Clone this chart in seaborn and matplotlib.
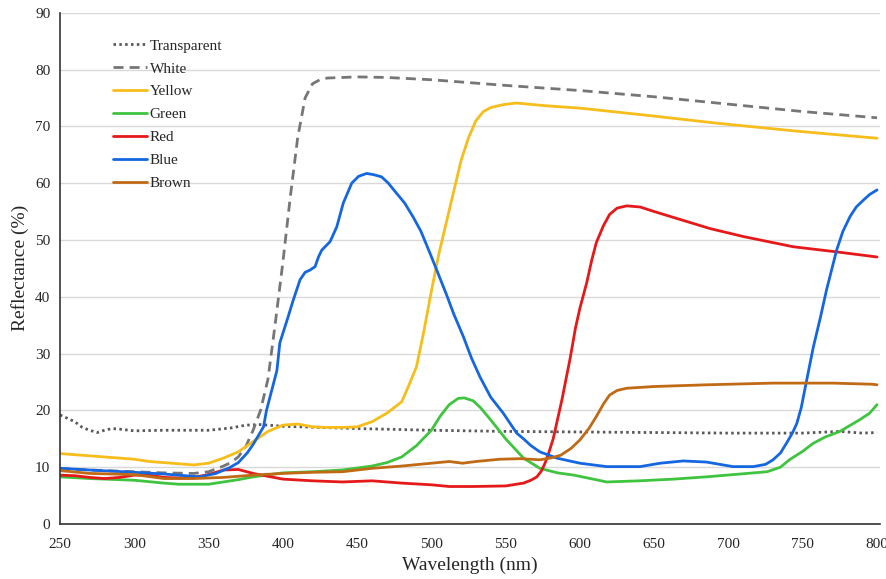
import matplotlib
matplotlib.use("Agg")
import matplotlib.pyplot as plt
import seaborn as sns
import pandas as pd

# Reflectance spectra of coloured samples (wavelength in nm, reflectance in %)
transparent_wl = [250, 255, 260, 265, 270, 275, 280, 285, 290, 300, 320, 350, 365, 375, 385,
                  400, 450, 500, 550, 600, 650, 700, 750, 775, 790, 800]
transparent_r = [19.2, 18.6, 18.0, 17.0, 16.5, 16.1, 16.5, 16.8, 16.7, 16.4, 16.5, 16.5, 16.9, 17.4, 17.5,
                 17.2, 16.8, 16.5, 16.3, 16.2, 16.1, 16.0, 16.0, 16.3, 16.0, 16.1]

white_wl = [250, 270, 300, 320, 340, 350, 360, 365, 370, 375, 380, 385, 390, 395, 400, 405, 410,
            415, 420, 425, 430, 450, 470, 500, 530, 550, 600, 650, 700, 750, 800]
white_r = [9.8, 9.5, 9.2, 9.0, 8.9, 9.2, 10.2, 10.8, 11.8, 13.6, 16.5, 20.0, 25.5, 35.5, 46.0, 57.5, 68.0,
           75.0, 77.5, 78.2, 78.5, 78.7, 78.6, 78.2, 77.6, 77.2, 76.3, 75.2, 73.9, 72.6, 71.5]

yellow_wl = [250, 260, 270, 280, 290, 300, 310, 320, 330, 340, 350, 360, 370, 380, 390, 400, 410,
             420, 430, 440, 450, 460, 470, 480, 485, 490, 495, 500, 505, 510, 515, 520, 525, 530,
             535, 540, 548, 557, 578, 600, 643, 694, 748, 800]
yellow_r = [12.4, 12.2, 12.0, 11.8, 11.6, 11.4, 11.0, 10.8, 10.6, 10.4, 10.7, 11.6, 12.7, 14.5, 16.3, 17.4, 17.6,
            17.1, 17.0, 17.0, 17.1, 18.0, 19.5, 21.5, 24.5, 27.7, 34.0, 41.0, 47.5, 53.0, 58.5, 64.0, 68.0, 71.0,
            72.6, 73.3, 73.8, 74.1, 73.6, 73.2, 72.0, 70.5, 69.1, 67.9]

green_wl = [250, 270, 300, 320, 330, 350, 360, 370, 380, 400, 420, 440, 460, 470, 480, 490, 500, 506,
            512, 518, 522, 528, 533, 540, 550, 562, 573, 585, 596, 607, 618, 640, 663, 685, 708, 726,
            735, 741, 750, 757, 765, 775, 788, 795, 800]
green_r = [8.3, 8.0, 7.7, 7.2, 7.0, 7.0, 7.4, 7.8, 8.3, 9.0, 9.2, 9.5, 10.2, 10.8, 11.8, 13.8, 16.5, 19.0,
           21.0, 22.1, 22.2, 21.7, 20.5, 18.3, 15.0, 11.6, 9.8, 9.0, 8.6, 8.0, 7.4, 7.6, 7.9, 8.3, 8.8, 9.2,
           10.0, 11.3, 12.8, 14.2, 15.3, 16.3, 18.3, 19.5, 21.0]

red_wl = [250, 260, 270, 280, 290, 300, 310, 320, 330, 340, 350, 360, 370, 380, 390, 400, 420, 440,
          460, 480, 500, 512, 528, 550, 562, 567, 571, 574, 576.5, 579, 582, 585, 588, 591, 593.3, 597,
          600, 604.6, 608, 611, 615.8, 620, 625, 631.5, 640.5, 650, 665, 687.6, 710, 743.6, 772.8, 800]
red_r = [8.6, 8.5, 8.2, 8.0, 8.2, 8.6, 8.6, 8.2, 8.1, 8.2, 8.7, 9.5, 9.6, 8.9, 8.4, 7.9, 7.6, 7.4,
         7.6, 7.2, 6.9, 6.6, 6.6, 6.7, 7.2, 7.7, 8.3, 9.3, 10.7, 12.5, 15.0, 18.5, 22.0, 26.0, 29.0, 34.5,
         38.0, 42.5, 46.5, 49.5, 52.5, 54.5, 55.6, 56.0, 55.8, 55.0, 53.8, 52.0, 50.6, 48.8, 47.9, 47.0]

blue_wl = [250, 270, 300, 320, 344, 355, 364, 370, 376, 380, 387, 389, 392, 396, 398, 403, 407, 411.6,
           415, 418.3, 421.7, 424, 426.2, 431.8, 436.3, 440.7, 446.4, 451, 456.4, 461, 466.5, 471,
           476.6, 482, 487.8, 493, 499, 503.6, 510, 515, 521.5, 527, 532.7, 540, 548.4, 557.4, 562,
           567, 573, 584.4, 600, 618, 640.5, 654, 669.6, 685.3, 703, 716.7, 725, 730, 735, 739, 743,
           746, 749, 752.7, 757, 762, 766, 772.8, 777, 781.8, 786, 790.8, 795, 800]
blue_r = [9.8, 9.5, 9.1, 8.8, 8.3, 8.9, 9.9, 10.8, 12.5, 14.0, 17.1, 20.0, 23.0, 27.0, 31.9, 36.0, 39.4, 43.0,
          44.3, 44.7, 45.3, 47.0, 48.2, 49.7, 52.3, 56.5, 60.0, 61.2, 61.7, 61.5, 61.1, 60.0,
          58.2, 56.5, 54.0, 51.5, 47.7, 44.7, 40.5, 37.0, 33.0, 29.2, 25.9, 22.3, 19.5, 16.0, 15.0,
          13.8, 12.7, 11.6, 10.7, 10.1, 10.1, 10.7, 11.1, 10.9, 10.1, 10.1, 10.5, 11.3, 12.5, 14.2, 16.0,
          17.7, 20.5, 25.4, 31.0, 36.5, 41.2, 48.2, 51.5, 54.1, 55.8, 57.0, 58.0, 58.8]

brown_wl = [250, 270, 300, 320, 340, 360, 380, 400, 420, 440, 460, 480, 500, 512, 521, 530, 546, 560,
            573, 580, 587, 594, 600, 606, 611, 616, 620, 625, 631.5, 650, 685, 730, 770, 797, 800]
brown_r = [9.4, 8.9, 8.7, 8.0, 8.0, 8.2, 8.6, 8.9, 9.1, 9.2, 9.8, 10.2, 10.7, 11.0, 10.7, 11.0, 11.4, 11.5,
           11.3, 11.6, 12.1, 13.3, 14.8, 16.8, 18.9, 21.2, 22.7, 23.5, 23.9, 24.2, 24.5, 24.8, 24.8, 24.6, 24.5]

series_names = ["Transparent", "White", "Yellow", "Green", "Red", "Blue", "Brown"]
series_wl = [transparent_wl, white_wl, yellow_wl, green_wl, red_wl, blue_wl, brown_wl]
series_r = [transparent_r, white_r, yellow_r, green_r, red_r, blue_r, brown_r]

frames = [pd.DataFrame({"Wavelength": wl, "Reflectance": r, "Sample": name})
          for name, wl, r in zip(series_names, series_wl, series_r)]
df = pd.concat(frames, ignore_index=True)

palette = {
    "Transparent": "#595959",
    "White": "#767676",
    "Yellow": "#F7BD1B",
    "Green": "#3FC43F",
    "Red": "#E51919",
    "Blue": "#1467E0",
    "Brown": "#C06A16",
}
dash_styles = {
    "Transparent": (0.9, 1.2),
    "White": (3.6, 2.2),
    "Yellow": "",
    "Green": "",
    "Red": "",
    "Blue": "",
    "Brown": "",
}

sns.set_theme(style="white")
plt.rcParams["font.family"] = ["Liberation Serif", "DejaVu Serif"]

fig = plt.figure(figsize=(8.87, 5.79), dpi=100)
ax = fig.add_axes([60 / 887, 1 - 524 / 579, 820 / 887, (524 - 12.7) / 579])

sns.lineplot(data=df, x="Wavelength", y="Reflectance", hue="Sample", style="Sample",
             hue_order=series_names, style_order=series_names,
             palette=palette, dashes=dash_styles, linewidth=2.0, sort=False,
             estimator=None, ax=ax)

ax.set_xlim(250, 802)
ax.set_ylim(0, 90)
ax.set_xticks(range(250, 801, 50))
ax.set_yticks(range(0, 91, 10))
ax.tick_params(axis="both", length=0, labelsize=11, colors="#262626")
ax.tick_params(axis="x", pad=10)
ax.tick_params(axis="y", pad=7)
ax.yaxis.grid(True, color="#d9d9d9", linewidth=1.0)
ax.xaxis.grid(False)
ax.set_axisbelow(True)
for side in ("top", "right"):
    ax.spines[side].set_visible(False)
for side in ("left", "bottom"):
    ax.spines[side].set_color("#333333")
    ax.spines[side].set_linewidth(1.2)

ax.set_xlabel("Wavelength (nm)", fontsize=14, color="#262626", labelpad=4)
ax.set_ylabel("Reflectance (%)", fontsize=14, color="#262626", labelpad=4)

leg = ax.legend(loc="upper left", bbox_to_anchor=(113 / 887, 1 - 39 / 579),
                bbox_transform=fig.transFigure, frameon=False, fontsize=11,
                handlelength=2.2, handletextpad=0.2, labelspacing=0.6,
                borderpad=0, borderaxespad=0)
for t in leg.get_texts():
    t.set_color("#262626")

fig.savefig("out.png", dpi=100)
